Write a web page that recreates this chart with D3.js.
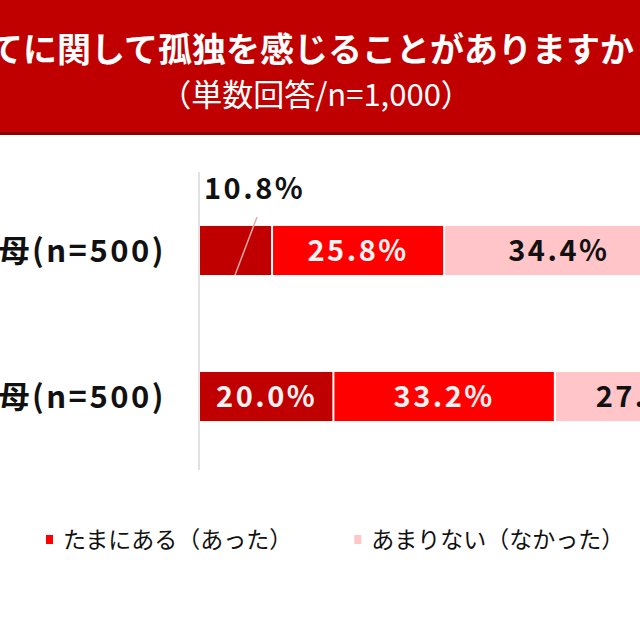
<!DOCTYPE html>
<html>
<head>
<meta charset="utf-8">
<script src="https://cdn.jsdelivr.net/npm/d3@7"></script>
<style>
  body { margin: 0; background: #fff; }
  svg text { font-family: "Noto Sans CJK JP", "Noto Sans", sans-serif; }
</style>
</head>
<body>
<div id="chart"></div>
<script>
// chart data
const titleText = "子育てに関して孤独を感じることがありますか";
const subtitleText = "（単数回答/n=1,000）";
const rows = ["row1", "row2"];
const rowLabels = ["母(n=500)", "母(n=500)"];
const categories = ["よくある（あった）", "たまにある（あった）", "あまりない（なかった）", "まったくない（なかった）"];
const colors = ["#C00000", "#FF0000", "#FFC5C8", "#F2F2F2"];
const labelColors = ["#FFF2F2", "#FFF2F2", "#111111", "#111111"];
const row1Values = [10.8, 25.8, 34.4, 29.0];
const row2Values = [20.0, 33.2, 27.4, 19.4];

const W = 640, H = 640;

const svg = d3.select("#chart").append("svg")
  .attr("width", W)
  .attr("height", H);

// title banner
svg.append("rect")
  .attr("x", 0).attr("y", 0)
  .attr("width", W).attr("height", 135)
  .attr("fill", "#C00000");
svg.append("rect")
  .attr("x", 0).attr("y", 132)
  .attr("width", W).attr("height", 3)
  .attr("fill", "#8E0000");

svg.append("text")
  .attr("x", 634).attr("y", 62)
  .attr("text-anchor", "end")
  .attr("fill", "#fff")
  .attr("font-size", 34)
  .attr("font-weight", "bold")
  .text(titleText);

svg.append("text")
  .attr("x", 316).attr("y", 106)
  .attr("text-anchor", "middle")
  .attr("fill", "#fff")
  .attr("font-size", 31)
  .text(subtitleText);

// scales
const x = d3.scaleLinear().domain([0, 100]).range([200, 867]);
const y = d3.scaleBand().domain(rows).range([129, 518]).padding(0.664);

// build stacked rows
const table = [row1Values, row2Values].map((vals, i) => {
  let acc = 0;
  return vals.map((v, j) => {
    const seg = { row: rows[i], cat: j, value: v, x0: acc, x1: acc + v };
    acc += v;
    return seg;
  });
});

const segs = table.flat();

svg.append("g")
  .selectAll("rect")
  .data(segs)
  .join("rect")
  .attr("x", d => x(d.x0) + (d.cat === 0 ? 0 : 1))
  .attr("y", d => y(d.row))
  .attr("width", d => x(d.x1) - x(d.x0) - (d.cat === 0 ? 1 : 2))
  .attr("height", y.bandwidth())
  .attr("fill", d => colors[d.cat]);

// axis line at 0
svg.append("line")
  .attr("x1", x(0) - 1).attr("x2", x(0) - 1)
  .attr("y1", 172).attr("y2", 470)
  .attr("stroke", "#D9D9D9")
  .attr("stroke-width", 1.5);

// value labels (the small first segment gets a callout above the bar)
const fmt = d3.format(".1f");
svg.append("g")
  .selectAll("text")
  .data(segs.filter(d => !(d.row === rows[0] && d.cat === 0)))
  .join("text")
  .attr("x", d => (x(d.x0) + x(d.x1)) / 2)
  .attr("y", d => y(d.row) + y.bandwidth() / 2)
  .attr("dy", "0.36em")
  .attr("text-anchor", "middle")
  .attr("font-size", 29)
  .attr("font-weight", "bold")
  .attr("letter-spacing", 2.5)
  .attr("fill", d => labelColors[d.cat])
  .text(d => fmt(d.value) + "%");

const small = segs.find(d => d.row === rows[0] && d.cat === 0);
svg.append("line")
  .attr("x1", x(small.x1) - 15).attr("y1", y(small.row) - 9)
  .attr("x2", x(small.x1) - 37).attr("y2", y(small.row) + y.bandwidth())
  .attr("stroke", "#E9AAAA")
  .attr("stroke-width", 1.5);
svg.append("text")
  .attr("x", x(0) + 4)
  .attr("y", y(small.row) - 27)
  .attr("font-size", 29)
  .attr("font-weight", "bold")
  .attr("letter-spacing", 2.5)
  .attr("fill", "#111")
  .text(fmt(small.value) + "%");

// row labels
svg.append("g")
  .selectAll("text")
  .data(rows)
  .join("text")
  .attr("x", 166)
  .attr("y", d => y(d) + y.bandwidth() / 2)
  .attr("dy", "0.36em")
  .attr("text-anchor", "end")
  .attr("font-size", 31)
  .attr("font-weight", "bold")
  .attr("letter-spacing", 2.5)
  .attr("fill", "#111")
  .text((d, i) => rowLabels[i]);

// legend, laid out in a row so the second item starts at x=46
const legend = svg.append("g").attr("transform", "translate(0,540)");
const items = legend.selectAll("g")
  .data(categories)
  .join("g");
items.append("rect")
  .attr("x", 0).attr("y", -5)
  .attr("width", 7).attr("height", 9)
  .attr("fill", (d, i) => colors[i]);
items.append("text")
  .attr("x", 17)
  .attr("dy", "0.36em")
  .attr("font-size", 23)
  .attr("fill", "#111")
  .text(d => d);

const widths = [];
items.each(function () {
  widths.push(d3.select(this).select("text").node().getComputedTextLength() + 17);
});
const gap = 62;
let pos = 46 - gap - widths[0];
items.each(function (d, i) {
  d3.select(this).attr("transform", `translate(${pos},0)`);
  pos += widths[i] + gap;
});
</script>
</body>
</html>
